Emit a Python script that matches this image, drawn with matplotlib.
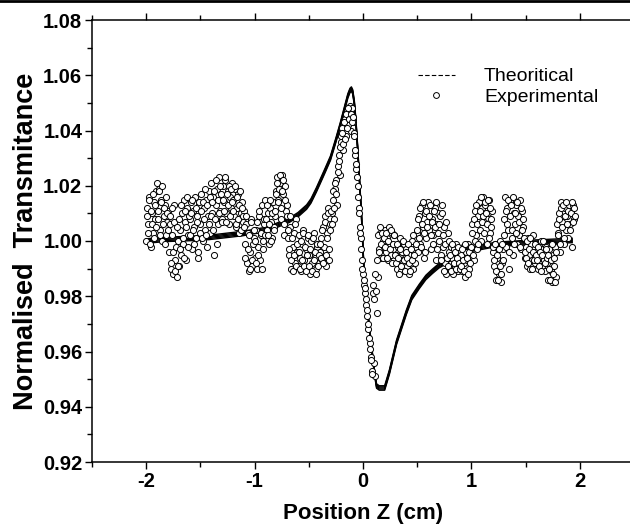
import matplotlib
matplotlib.use("Agg")
import numpy as np
import matplotlib.pyplot as plt
import matplotlib.patheffects as pe
from matplotlib.lines import Line2D
from matplotlib.ticker import MultipleLocator

plt.rcParams["font.family"] = ["Liberation Sans", "DejaVu Sans"]
plt.rcParams["axes.unicode_minus"] = False

# ── data ─────────────────────────────────────────────────────
theory_z = [-2.00, -1.82, -1.60, -1.42, -1.11, -0.89, -0.68, -0.60, -0.52, -0.48,
            -0.43, -0.375, -0.35, -0.30, -0.25, -0.21, -0.17, -0.14, -0.12, -0.107,
            -0.095, -0.08, -0.065, -0.05, -0.015, 0.013, 0.06, 0.105, 0.125, 0.15,
            0.20, 0.244, 0.31, 0.40, 0.45, 0.52, 0.58, 0.64, 0.70, 0.77,
            0.89, 1.00, 1.23, 1.54, 1.93]
theory_t = [1.0000, 1.0006, 1.0009, 1.0013, 1.0027, 1.0042, 1.0075, 1.0095, 1.0123, 1.0145,
            1.0185, 1.0233, 1.0255, 1.0300, 1.0365, 1.0420, 1.0480, 1.0525, 1.0545, 1.0550,
            1.0540, 1.0500, 1.0430, 1.0340, 1.0100, 0.9860, 0.9680, 0.9526, 0.9475, 0.9468,
            0.9468, 0.9526, 0.9634, 0.9742, 0.9795, 0.9836, 0.9868, 0.9890, 0.9910, 0.9926,
            0.9959, 0.9970, 0.9988, 0.9995, 1.0002]

# experimental readings, every 0.01 cm from z = -2.000 (scan A) and z = -1.995 (scan B)
exp_step = 0.01
exp_start_a, exp_start_b = -2.000, -1.995
exp_t_a = [
    1.000, 1.012, 1.006, 1.016, 0.998, 1.010, 1.003, 1.014, 1.008, 1.018,
    1.021, 1.011, 1.019, 1.004, 1.015, 1.000, 1.009, 1.013, 1.002, 1.007,
    1.011, 0.996, 1.006, 0.990, 1.002, 0.988, 1.013, 0.993, 0.987, 1.000,
    0.991, 1.004, 0.995, 1.010, 0.999, 1.015, 1.007, 0.993, 1.012, 1.002,
    1.008, 1.014, 0.997, 1.011, 1.005, 1.016, 1.001, 1.009, 0.994, 1.013,
    1.006, 1.017, 1.000, 1.012, 1.004, 1.015, 0.998, 1.009, 1.018, 1.003,
    1.021, 1.010, 1.016, 0.995, 1.013, 1.019, 1.006, 1.023, 1.011, 1.017,
    1.008, 1.020, 1.014, 1.022, 1.010, 1.018, 1.006, 1.016, 1.012, 1.021,
    1.015, 1.009, 1.019, 1.005, 1.012, 1.017, 1.003, 1.010, 1.014, 1.007,
    1.011, 0.999, 1.006, 0.992, 1.003, 0.989, 0.996, 1.008, 0.991, 1.001,
    0.994, 1.004, 0.990, 0.998, 1.009, 0.993, 1.002, 1.013, 0.997, 1.006,
    1.015, 1.004, 1.010, 0.999, 1.012, 1.007, 1.001, 1.014, 1.005, 1.009,
    1.018, 1.023, 1.015, 1.021, 1.008, 1.024, 1.017, 1.002, 1.020, 1.011,
    1.013, 1.001, 0.995, 1.005, 0.990, 0.998, 1.003, 0.992, 1.008, 0.996,
    0.991, 1.002, 0.994, 0.989, 0.999, 1.004, 0.993, 0.997, 0.990, 1.001,
    0.995, 0.988, 1.000, 0.992, 0.989, 1.003, 0.994, 0.990, 0.998, 0.992,
    0.996, 1.001, 0.993, 1.005, 0.998, 1.009, 0.991, 1.003, 1.012, 0.997,
    1.004, 1.010, 1.015, 1.008, 1.019, 1.022, 1.013, 1.027, 1.031, 1.024,
    1.036, 1.041, 1.033, 1.044, 1.038, 1.047, 1.042, 1.045, 1.049, 1.040,
    1.048, 1.043, 1.039, 1.031, 1.026, 1.020, 1.012, 1.005, 1.001, 0.993,
    0.988, 0.984, 0.981, 0.977, 0.973, 0.968, 0.963, 0.958, 0.953, 0.981,
    0.956, 0.951, 0.982, 0.974, 0.987, 0.997, 1.003, 0.994, 1.000, 0.998,
    1.004, 0.996, 1.001, 0.993, 1.005, 0.999, 0.995, 1.003, 0.997, 1.002,
    0.995, 0.990, 0.998, 0.993, 1.001, 0.989, 0.996, 0.992, 0.999, 0.994,
    0.997, 0.991, 0.988, 0.995, 0.993, 1.000, 0.990, 0.996, 0.992, 0.998,
    1.003, 0.996, 1.009, 0.999, 1.013, 1.005, 0.994, 1.010, 1.001, 1.007,
    1.014, 1.004, 1.011, 0.997, 1.008, 1.002, 1.012, 0.993, 1.006, 1.010,
    1.000, 1.009, 0.995, 1.013, 0.998, 1.005, 0.992, 0.988, 1.003, 0.996,
    0.990, 0.998, 0.994, 0.988, 0.997, 0.991, 0.999, 0.993, 0.989, 0.996,
    0.995, 0.989, 0.998, 0.992, 0.987, 0.996, 0.993, 0.999, 0.990, 0.994,
    0.998, 1.006, 0.993, 1.011, 1.002, 0.997, 1.009, 1.014, 1.004, 1.000,
    1.012, 1.016, 1.007, 1.013, 0.999, 1.010, 1.015, 1.003, 1.008, 1.011,
    0.996, 0.991, 0.999, 0.986, 0.994, 0.988, 1.000, 0.985, 0.992, 0.997,
    1.008, 1.016, 0.998, 1.012, 1.004, 0.990, 1.014, 1.001, 0.995, 1.010,
    1.006, 1.013, 0.999, 1.009, 1.002, 1.015, 0.997, 1.011, 1.005, 0.994,
    0.998, 0.991, 1.001, 0.995, 0.990, 0.999, 0.993, 1.002, 0.996, 0.992,
    0.996, 0.990, 0.999, 0.994, 1.000, 0.991, 0.997, 0.993, 0.989, 0.998,
    0.992, 0.986, 0.997, 0.989, 0.985, 0.995, 0.991, 0.998, 0.987, 1.006,
    1.003, 1.010, 0.996, 1.014, 1.007, 0.999, 1.012, 1.004, 1.009, 1.001,
    1.013, 1.006, 1.011, 0.998, 1.013, 1.008,
]
exp_t_b = [
    1.009, 1.003, 1.015, 0.999, 1.011, 1.006, 1.017, 1.001, 1.013, 1.005,
    1.008, 1.018, 1.002, 1.014, 1.020, 1.006, 1.012, 0.999, 1.016, 1.010,
    1.004, 1.009, 0.992, 1.012, 0.996, 1.007, 0.989, 0.998, 1.005, 0.991,
    1.008, 0.997, 1.013, 1.001, 0.994, 1.011, 1.005, 1.016, 0.998, 1.009,
    1.002, 1.010, 1.015, 1.004, 0.999, 1.012, 1.007, 0.996, 1.014, 1.003,
    1.011, 1.001, 1.014, 1.008, 1.019, 1.002, 1.013, 1.006, 1.016, 1.009,
    1.014, 1.004, 1.018, 1.008, 1.022, 0.999, 1.015, 1.010, 1.020, 1.007,
    1.015, 1.011, 1.023, 1.007, 1.017, 1.013, 1.020, 1.009, 1.019, 1.014,
    1.011, 1.020, 1.006, 1.016, 1.008, 1.013, 1.018, 1.004, 1.012, 1.009,
    1.005, 0.994, 1.009, 0.997, 1.002, 0.990, 1.007, 0.993, 0.999, 1.004,
    1.000, 0.992, 1.007, 0.995, 1.011, 1.003, 0.990, 1.000, 1.008, 1.002,
    1.008, 1.013, 1.002, 1.006, 1.015, 1.000, 1.010, 1.004, 1.011, 1.017,
    1.021, 1.014, 1.019, 1.024, 1.012, 1.018, 1.022, 1.006, 1.015, 1.009,
    1.004, 0.997, 1.009, 0.993, 1.001, 0.989, 0.995, 1.006, 0.991, 0.999,
    0.996, 0.990, 1.000, 0.993, 1.003, 0.991, 0.998, 0.989, 0.995, 1.002,
    0.991, 0.997, 0.989, 1.001, 0.993, 0.996, 0.988, 0.999, 0.991, 0.995,
    0.999, 0.994, 1.004, 0.992, 1.007, 0.995, 1.001, 1.010, 0.993, 1.006,
    1.011, 1.006, 1.018, 1.012, 1.021, 1.017, 1.025, 1.029, 1.034, 1.038,
    1.039, 1.035, 1.043, 1.037, 1.046, 1.041, 1.048, 1.044, 1.046, 1.043,
    1.045, 1.038, 1.033, 1.028, 1.023, 1.016, 1.010, 1.003, 0.997, 0.990,
    0.986, 0.983, 0.979, 0.975, 0.970, 0.965, 0.961, 0.957, 0.952, 0.984,
    0.979, 0.988, 0.993, 1.002, 0.996, 1.005, 0.999, 1.003, 0.994, 1.001,
    0.998, 1.003, 0.994, 1.000, 0.997, 1.004, 0.992, 0.999, 1.002, 0.995,
    0.992, 0.999, 0.994, 0.988, 0.997, 0.991, 1.000, 0.993, 0.989, 0.996,
    0.994, 0.999, 0.992, 0.989, 0.997, 0.993, 1.002, 0.995, 0.999, 1.004,
    1.008, 1.001, 1.012, 0.998, 1.006, 1.014, 1.003, 0.996, 1.011, 1.005,
    1.009, 1.013, 1.002, 1.007, 0.999, 1.011, 1.005, 1.014, 0.997, 1.003,
    1.006, 0.993, 1.010, 1.002, 0.989, 0.999, 1.007, 0.994, 0.991, 1.000,
    0.995, 0.989, 0.999, 0.992, 0.996, 0.990, 0.994, 0.998, 0.992, 0.990,
    0.991, 0.997, 0.993, 0.989, 0.999, 0.994, 0.988, 0.996, 0.992, 0.998,
    1.003, 0.995, 1.008, 1.000, 1.013, 1.006, 0.999, 1.011, 1.016, 1.007,
    1.009, 1.003, 1.014, 1.010, 1.006, 1.015, 1.001, 1.012, 1.005, 0.998,
    0.993, 0.999, 0.989, 0.995, 0.986, 0.997, 0.991, 0.988, 0.999, 0.993,
    1.002, 1.011, 1.006, 1.015, 0.996, 1.009, 1.013, 1.004, 1.016, 0.999,
    1.010, 1.003, 1.014, 1.007, 0.998, 1.012, 1.004, 1.008, 1.001, 0.996,
    0.994, 1.000, 0.992, 0.997, 1.001, 0.990, 0.996, 0.993, 0.999, 0.995,
    0.993, 0.998, 0.991, 0.996, 0.989, 0.995, 1.000, 0.992, 0.997, 0.994,
    0.995, 0.990, 0.986, 0.993, 0.999, 0.988, 0.994, 0.985, 0.996, 1.002,
    1.008, 0.999, 1.012, 1.005, 1.013, 1.001, 1.009, 1.014, 1.006, 1.011,
    1.004, 1.010, 1.014, 1.007, 1.012, 1.009,
]
exp_z = np.concatenate([exp_start_a + exp_step * np.arange(len(exp_t_a)),
                        exp_start_b + exp_step * np.arange(len(exp_t_b))])
exp_t = np.concatenate([exp_t_a, exp_t_b])

# ── figure ───────────────────────────────────────────────────
fig = plt.figure(figsize=(6.30, 5.28), dpi=100)
ax = fig.add_axes([92 / 630, 66 / 528, 542 / 630, 442 / 528])

# thick "staircase" look of the theory curve: same line stroked with small vertical offsets
thick = [pe.Stroke(offset=(0, dy), linewidth=1.0, foreground="black")
         for dy in (-1.6, -0.8, 0.8, 1.6)]
ax.plot(theory_z, theory_t, color="black", lw=1.0, zorder=2,
        path_effects=thick + [pe.Normal()])

ax.plot(exp_z, exp_t, ls="none", marker="o", ms=4.4, mfc="white", mec="black",
        mew=0.7, zorder=3)

ax.set_xlim(-2.5, 2.5)
ax.set_ylim(0.92, 1.08)
ax.xaxis.set_major_locator(MultipleLocator(1))
ax.xaxis.set_minor_locator(MultipleLocator(0.5))
ax.yaxis.set_major_locator(MultipleLocator(0.02))
ax.yaxis.set_minor_locator(MultipleLocator(0.01))
ax.yaxis.set_major_formatter(plt.FormatStrFormatter("%.2f"))

ax.tick_params(axis="both", which="major", direction="out", length=5, width=1,
               labelsize=14.5, pad=2)
ax.tick_params(axis="both", which="minor", direction="out", length=3.5, width=1)
ax.tick_params(axis="x", which="both", top=True, labeltop=False)
for lab in ax.get_xticklabels() + ax.get_yticklabels():
    lab.set_fontweight("bold")
ax.spines["right"].set_visible(False)
for s in ("left", "bottom", "top"):
    ax.spines[s].set_linewidth(1.1)

ax.set_xlabel("Position Z (cm)", fontsize=16, fontweight="bold", labelpad=9)
ax.set_ylabel("Normalised  Transmitance", fontsize=19.5, fontweight="bold", labelpad=3)

handles = [Line2D([], [], color="black", ls=(0, (4, 2)), lw=0.8),
           Line2D([], [], ls="none", marker="o", ms=4.2, mfc="white", mec="black", mew=0.7)]
ax.legend(handles, ["Theoritical", "Experimental"], loc="upper left",
          bbox_to_anchor=(410 / 630, 1 - 60 / 528), bbox_transform=fig.transFigure,
          frameon=False, fontsize=14, handlelength=1.9, handletextpad=1.5,
          labelspacing=0.15, borderaxespad=0)

# black rule along the very top of the picture
fig.add_artist(Line2D([0, 1], [0.998, 0.998], color="black", lw=2, transform=fig.transFigure))

fig.savefig("out.png", dpi=100)
